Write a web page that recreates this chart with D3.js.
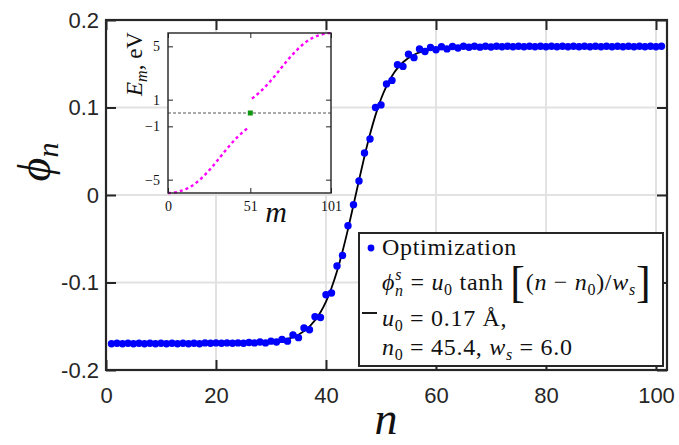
<!DOCTYPE html>
<html>
<head>
<meta charset="utf-8">
<script src="https://cdn.jsdelivr.net/npm/d3@7"></script>
<style>
  body { margin: 0; background: #fff; }
  svg { display: block; }
</style>
</head>
<body>
<div id="chart"></div>
<script>
// optimized lattice displacement phi_n, sites n = 1..101
var sites = d3.range(1, 102);
var phiOpt = [
  -0.170,-0.1695,-0.170,-0.1695,-0.170,-0.1695,-0.170,-0.1695,-0.170,-0.1695,
  -0.170,-0.1695,-0.170,-0.1695,-0.170,-0.1695,-0.170,-0.169,-0.1695,-0.169,
  -0.1695,-0.169,-0.1695,-0.169,-0.1695,-0.1685,-0.169,-0.168,-0.169,-0.167,
  -0.168,-0.165,-0.167,-0.160,-0.163,-0.152,-0.154,-0.139,-0.140,-0.114,
  -0.112,-0.081,-0.069,-0.035,-0.011,0.016,0.048,0.064,0.100,0.103,
  0.127,0.131,0.149,0.147,0.161,0.157,0.167,0.164,0.1685,0.166,
  0.1695,0.167,0.1698,0.168,0.170,0.1688,0.170,0.169,0.170,0.1692,
  0.170,0.1695,0.170,0.1695,0.170,0.1695,0.170,0.1695,0.170,0.1695,
  0.170,0.1695,0.170,0.1695,0.170,0.1695,0.170,0.1695,0.170,0.1695,
  0.170,0.1695,0.170,0.1695,0.170,0.1695,0.170,0.1695,0.170,0.1695,
  0.170
];

// tanh fit
var fitN   = [1, 25, 30, 33, 35, 37, 39, 40, 41, 42, 43, 44, 45, 46, 47, 48, 49, 50, 51, 52, 53, 54, 56, 58, 61, 66, 101];
var fitPhi = [-0.170, -0.1696, -0.168, -0.1646, -0.1597, -0.1505, -0.134, -0.1218, -0.1063, -0.0872, -0.0646, -0.039, -0.0113,
              0.0169, 0.0443, 0.0694, 0.0913, 0.1097, 0.1244, 0.1361, 0.145, 0.1517, 0.1603, 0.165, 0.1681, 0.1697, 0.170];

var xTicks = [0, 20, 40, 60, 80, 100];
var yTicks = [-0.2, -0.1, 0, 0.1, 0.2];

// inset: spectrum E_m (eV)
var lowM = d3.range(0, 51);
var lowE = [
  -6.00,-5.995,-5.99,-5.98,-5.96,-5.94,-5.91,-5.88,-5.84,-5.80,
  -5.76,-5.71,-5.66,-5.60,-5.53,-5.46,-5.37,-5.28,-5.18,-5.08,
  -4.97,-4.86,-4.74,-4.62,-4.49,-4.36,-4.23,-4.09,-3.95,-3.80,
  -3.65,-3.50,-3.35,-3.20,-3.05,-2.90,-2.75,-2.61,-2.47,-2.33,
  -2.19,-2.06,-1.93,-1.81,-1.69,-1.58,-1.47,-1.37,-1.27,-1.17,
  -1.08
];
var upM = d3.range(52, 102);
var upE = [
  1.08,1.17,1.27,1.37,1.47,1.58,1.69,1.81,1.93,2.06,
  2.19,2.33,2.47,2.61,2.75,2.90,3.05,3.20,3.35,3.50,
  3.65,3.80,3.95,4.09,4.23,4.36,4.49,4.62,4.74,4.86,
  4.97,5.08,5.18,5.28,5.37,5.46,5.53,5.60,5.66,5.71,
  5.76,5.80,5.84,5.88,5.91,5.94,5.96,5.98,5.99,5.995
];
var midState = [{m: 51, e: 0}];
var insetXTicks = [0, 51, 101];
var insetYTicks = [-5, -1, 1, 5];

var W = 679, H = 445;
var ink = "#262626";
var serif = "'Liberation Serif', 'DejaVu Serif', serif";
var sans = "'Liberation Sans', Arial, Helvetica, sans-serif";

var svg = d3.select("#chart").append("svg")
  .attr("width", W)
  .attr("height", H);

var x = d3.scaleLinear().domain([0, 102]).range([106, 667]);
var y = d3.scaleLinear().domain([-0.2, 0.2]).range([370, 20]);

// grid
svg.append("g").selectAll("line")
  .data(xTicks.filter(function(d){ return d > 0; }))
  .enter().append("line")
  .attr("x1", function(d){ return x(d); }).attr("x2", function(d){ return x(d); })
  .attr("y1", y(-0.2)).attr("y2", y(0.2))
  .attr("stroke", "#e2e2e2").attr("stroke-width", 2);
svg.append("g").selectAll("line")
  .data(yTicks.filter(function(d){ return d > -0.2 && d < 0.2; }))
  .enter().append("line")
  .attr("y1", function(d){ return y(d); }).attr("y2", function(d){ return y(d); })
  .attr("x1", x(0)).attr("x2", x(102))
  .attr("stroke", "#e2e2e2").attr("stroke-width", 2);

// axes with inward ticks on all four sides
var tl = 10;
var axB = svg.append("g").attr("transform", "translate(0," + y(-0.2) + ")")
  .call(d3.axisBottom(x).tickValues(xTicks).tickSizeInner(-tl).tickSizeOuter(0).tickPadding(17));
var axT = svg.append("g").attr("transform", "translate(0," + y(0.2) + ")")
  .call(d3.axisTop(x).tickValues(xTicks).tickSizeInner(-tl).tickSizeOuter(0).tickFormat(""));
var axL = svg.append("g").attr("transform", "translate(" + x(0) + ",0)")
  .call(d3.axisLeft(y).tickValues(yTicks).tickSizeInner(-tl).tickSizeOuter(0).tickPadding(7)
    .tickFormat(function(d){ return d === 0 ? "0" : d3.format(".1f")(d).replace("−", "-"); }));
var axR = svg.append("g").attr("transform", "translate(" + x(102) + ",0)")
  .call(d3.axisRight(y).tickValues(yTicks).tickSizeInner(-tl).tickSizeOuter(0).tickFormat(""));

[axB, axT, axL, axR].forEach(function(a){
  a.select(".domain").remove();
  a.selectAll(".tick line").attr("stroke", ink).attr("stroke-width", 2);
  a.selectAll(".tick text").attr("fill", ink).style("font-family", sans).style("font-size", "22px");
});

// frame
svg.append("rect")
  .attr("x", x(0)).attr("y", y(0.2))
  .attr("width", x(102) - x(0)).attr("height", y(-0.2) - y(0.2))
  .attr("fill", "none").attr("stroke", ink).attr("stroke-width", 2.2);

// fit curve
svg.append("path")
  .datum(fitN.map(function(n, i){ return [n, fitPhi[i]]; }))
  .attr("fill", "none").attr("stroke", "#000").attr("stroke-width", 1.8)
  .attr("d", d3.line().x(function(d){ return x(d[0]); }).y(function(d){ return y(d[1]); }).curve(d3.curveMonotoneX));

// optimized points
svg.append("g").selectAll("circle")
  .data(sites)
  .enter().append("circle")
  .attr("cx", function(d){ return x(d); })
  .attr("cy", function(d, i){ return y(phiOpt[i]); })
  .attr("r", 3.7)
  .attr("fill", "#0000ff");

// axis labels
svg.append("text")
  .attr("transform", "translate(50,162) rotate(-90)")
  .attr("text-anchor", "middle")
  .style("font-family", serif).style("font-style", "italic").style("font-size", "46px").attr("fill", "#111")
  .html('ϕ<tspan font-size="30px" dy="8">n</tspan>');
svg.append("text")
  .attr("x", 386).attr("y", 434)
  .attr("text-anchor", "middle")
  .style("font-family", serif).style("font-style", "italic").style("font-size", "46px").attr("fill", "#111")
  .text("n");

// ---------- inset ----------
var ix = d3.scaleLinear().domain([0, 101]).range([168, 331]);
var iy = d3.scaleLinear().domain([-6, 6]).range([193, 33]);
var inset = svg.append("g");
inset.append("rect")
  .attr("x", ix(0)).attr("y", iy(6))
  .attr("width", ix(101) - ix(0)).attr("height", iy(-6) - iy(6))
  .attr("fill", "#fff");

inset.append("line")
  .attr("x1", ix(0)).attr("x2", ix(101))
  .attr("y1", iy(0)).attr("y2", iy(0))
  .attr("stroke", "#555").attr("stroke-width", 1).attr("stroke-dasharray", "3,2");

var iline = d3.line().x(function(d){ return ix(d[0]); }).y(function(d){ return iy(d[1]); });
[[lowM, lowE], [upM, upE]].forEach(function(b){
  inset.append("path")
    .datum(b[0].map(function(m, i){ return [m, b[1][i]]; }))
    .attr("fill", "none").attr("stroke", "#ff00ff").attr("stroke-width", 2.4)
    .attr("stroke-dasharray", "3,3")
    .attr("d", iline);
});

inset.selectAll("rect.mid")
  .data(midState)
  .enter().append("rect")
  .attr("class", "mid")
  .attr("x", function(d){ return ix(d.m) - 2.5; })
  .attr("y", function(d){ return iy(d.e) - 2.5; })
  .attr("width", 5).attr("height", 5)
  .attr("fill", "#119611");

var itl = 5;
var iaB = inset.append("g").attr("transform", "translate(0," + iy(-6) + ")")
  .call(d3.axisBottom(ix).tickValues(insetXTicks).tickSizeInner(-itl).tickSizeOuter(0).tickPadding(itl + 3));
var iaT = inset.append("g").attr("transform", "translate(0," + iy(6) + ")")
  .call(d3.axisTop(ix).tickValues(insetXTicks).tickSizeInner(-itl).tickSizeOuter(0).tickFormat(""));
var iaL = inset.append("g").attr("transform", "translate(" + ix(0) + ",0)")
  .call(d3.axisLeft(iy).tickValues(insetYTicks).tickSizeInner(-itl).tickSizeOuter(0).tickPadding(itl + 3)
    .tickFormat(function(d){ return d < 0 ? "\u2212" + Math.abs(d) : String(d); }));
var iaR = inset.append("g").attr("transform", "translate(" + ix(101) + ",0)")
  .call(d3.axisRight(iy).tickValues(insetYTicks).tickSizeInner(-itl).tickSizeOuter(0).tickFormat(""));
[iaB, iaT, iaL, iaR].forEach(function(a){
  a.select(".domain").remove();
  a.selectAll(".tick line").attr("stroke", "#222").attr("stroke-width", 1);
  a.selectAll(".tick text").attr("fill", "#111").style("font-family", serif).style("font-size", "14px");
});
inset.append("rect")
  .attr("x", ix(0)).attr("y", iy(6))
  .attr("width", ix(101) - ix(0)).attr("height", iy(-6) - iy(6))
  .attr("fill", "none").attr("stroke", "#222").attr("stroke-width", 1.4);

inset.append("text")
  .attr("transform", "translate(142,64) rotate(-90)")
  .attr("text-anchor", "middle")
  .style("font-family", serif).style("font-size", "23px").attr("fill", "#111")
  .html('<tspan font-style="italic">E</tspan><tspan font-style="italic" font-size="16px" dy="5">m</tspan><tspan dy="-5">, eV</tspan>');
inset.append("text")
  .attr("x", 276).attr("y", 222)
  .attr("text-anchor", "middle")
  .style("font-family", serif).style("font-style", "italic").style("font-size", "30px").attr("fill", "#111")
  .text("m");

// ---------- legend ----------
var leg = svg.append("g");
leg.append("rect")
  .attr("x", 359).attr("y", 233).attr("width", 304).attr("height", 133)
  .attr("fill", "#fff").attr("stroke", ink).attr("stroke-width", 2);
leg.append("circle").attr("cx", 371).attr("cy", 248).attr("r", 3.4).attr("fill", "#0000ff");
leg.append("line").attr("x1", 362).attr("x2", 377).attr("y1", 313).attr("y2", 313)
  .attr("stroke", "#000").attr("stroke-width", 1.8);

function legText(yb, html){
  leg.append("text")
    .attr("x", 382).attr("y", yb)
    .style("font-family", serif).style("font-size", "24px").style("letter-spacing", "0.7px").attr("fill", "#111")
    .html(html);
}
var it = 'font-style="italic"';
legText(255, 'Optimization');
legText(290,
  '<tspan ' + it + '>ϕ</tspan>' +
  '<tspan ' + it + ' font-size="16px" dy="-10">s</tspan>' +
  '<tspan ' + it + ' font-size="16px" dx="-7" dy="16">n</tspan>' +
  '<tspan dy="-6"> = </tspan><tspan ' + it + '>u</tspan><tspan font-size="16px" dy="5">0</tspan>' +
  '<tspan dy="-5"> tanh </tspan>' +
  '<tspan font-size="44px" dy="7">[</tspan>' +
  '<tspan dy="-7">(</tspan><tspan ' + it + '>n</tspan> \u2212 <tspan ' + it + '>n</tspan>' +
  '<tspan font-size="16px" dy="5">0</tspan><tspan dy="-5">)/</tspan><tspan ' + it + '>w</tspan>' +
  '<tspan ' + it + ' font-size="16px" dy="5">s</tspan>' +
  '<tspan font-size="44px" dy="2">]</tspan>');
legText(326,
  '<tspan ' + it + '>u</tspan><tspan font-size="16px" dy="5">0</tspan><tspan dy="-5"> = 0.17 Å,</tspan>');
legText(355,
  '<tspan ' + it + '>n</tspan><tspan font-size="16px" dy="5">0</tspan><tspan dy="-5"> = 45.4, </tspan>' +
  '<tspan ' + it + '>w</tspan><tspan ' + it + ' font-size="16px" dy="5">s</tspan><tspan dy="-5"> = 6.0</tspan>');
</script>
</body>
</html>
